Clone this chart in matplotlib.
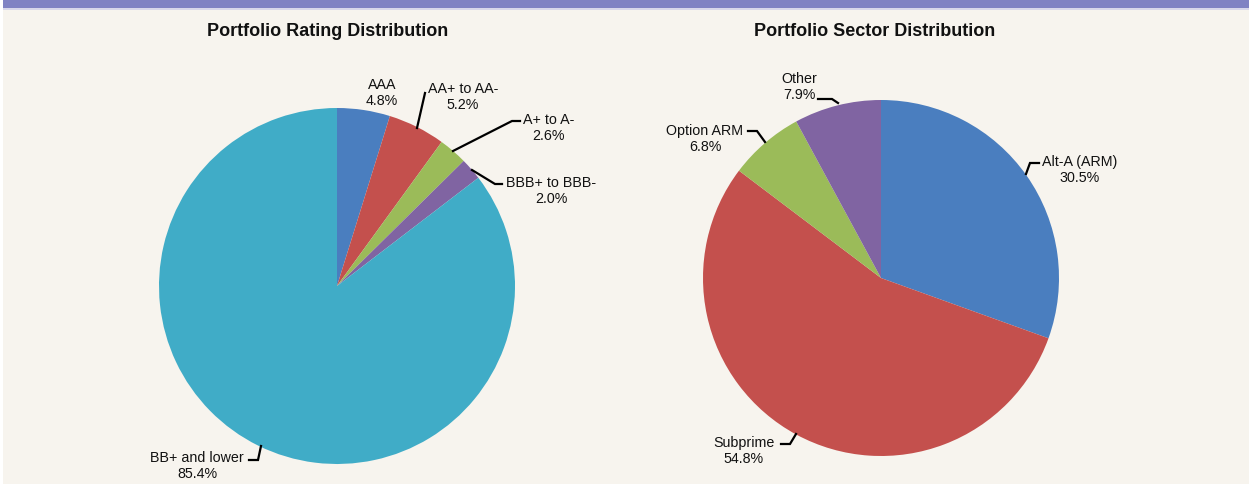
import numpy as np
import matplotlib.pyplot as plt
from matplotlib.patches import Rectangle

plt.rcParams["font.family"] = ["Liberation Sans", "DejaVu Sans"]

# data
rating_labels = ["AAA", "AA+ to AA-", "A+ to A-", "BBB+ to BBB-", "BB+ and lower"]
rating_values = [4.8, 5.2, 2.6, 2.0, 85.4]
rating_colors = ["#4a7ebf", "#c4504d", "#9bbb59", "#8064a2", "#40acc7"]

sector_labels = ["Alt-A (ARM)", "Subprime", "Option ARM", "Other"]
sector_values = [30.5, 54.8, 6.8, 7.9]
sector_colors = ["#4a7ebf", "#c4504d", "#9bbb59", "#8064a2"]

W, H = 1249, 485
BG = "#f7f4ee"

fig = plt.figure(figsize=(W / 100, H / 100), dpi=100)
fig.patch.set_facecolor("white")
ax = fig.add_axes([0, 0, 1, 1])
ax.set_xlim(0, W)
ax.set_ylim(0, H)
ax.axis("off")

# background panel and top band
ax.add_patch(Rectangle((3, 0), W - 3, H, facecolor=BG, edgecolor="none", zorder=0))
ax.add_patch(Rectangle((3, H - 9), W - 3, 9, facecolor="#8083c3", edgecolor="none", zorder=1))
ax.add_patch(Rectangle((3, H - 10.5), W - 3, 1.5, facecolor="#d8d8ea", edgecolor="none", zorder=1))


def y(py):
    return H - py


def draw_pie(values, colors, center, radius):
    wedges, _ = ax.pie(values, colors=colors, startangle=90, counterclock=False,
                       center=center, radius=radius, frame=True,
                       wedgeprops=dict(linewidth=0))
    return wedges


def leader(pts):
    xs = [p[0] for p in pts]
    ys = [y(p[1]) for p in pts]
    ax.plot(xs, ys, color="black", lw=1.6, solid_joinstyle="miter", zorder=5)


def label(txt, pct, px, py, ha="center"):
    ax.text(px, y(py), f"{txt}\n{pct}", ha=ha, va="center", fontsize=10.3,
            linespacing=1.2, multialignment="center", color="#111111")


# left pie
lc = (337, y(287))
R = 178
draw_pie(rating_values, rating_colors, lc, R)
ax.set_xlim(0, W)
ax.set_ylim(0, H)
ax.set_aspect("equal")
ax.axis("off")

label(rating_labels[0], "4.8%", 382, 93)
leader([(417, 129), (425, 94)])
label(rating_labels[1], "5.2%", 463, 97)
leader([(453, 152), (512, 122), (520, 122)])
label(rating_labels[2], "2.6%", 549, 128)
leader([(472, 171), (495, 185), (502, 185)])
label(rating_labels[3], "2.0%", 551, 191)
leader([(261, 447), (258, 461), (249, 461)])
label(rating_labels[4], "85.4%", 197, 466)

# right pie
rc = (881, y(279))
draw_pie(sector_values, sector_colors, rc, R)
ax.set_xlim(0, W)
ax.set_ylim(0, H)
ax.axis("off")

leader([(1026, 175), (1030, 164), (1039, 164)])
label(sector_labels[0], "30.5%", 1080, 170)
leader([(796, 435), (790, 445), (781, 445)])
label(sector_labels[1], "54.8%", 744, 451)
leader([(765, 143), (757, 132), (748, 132)])
label(sector_labels[2], "6.8%", 705, 139)
leader([(838, 104), (832, 100), (818, 100)])
label(sector_labels[3], "7.9%", 799, 87)

ax.text(328, y(32), "Portfolio Rating Distribution", ha="center", va="center",
        fontsize=13, fontweight="bold", color="#111111")
ax.text(875, y(32), "Portfolio Sector Distribution", ha="center", va="center",
        fontsize=13, fontweight="bold", color="#111111")

fig.savefig("out.png", dpi=100, facecolor=fig.get_facecolor())
